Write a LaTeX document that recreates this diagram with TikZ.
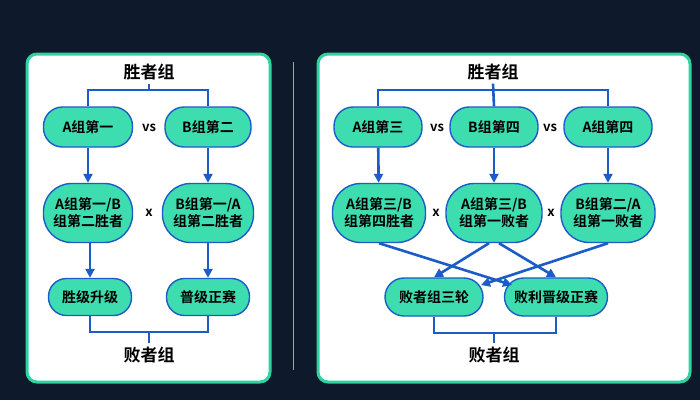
\documentclass[tikz,border=0pt]{standalone}
\usepackage{fontspec}
\setmainfont{Noto Sans CJK SC}[BoldFont={Noto Sans CJK SC Bold}]
\usetikzlibrary{arrows.meta}
\definecolor{bg}{HTML}{0E1A2C}
\definecolor{nodefill}{HTML}{3EDDB0}
\definecolor{lineblue}{HTML}{1B5CC6}
\definecolor{panelb}{HTML}{2ED3A0}
\begin{document}
\begin{tikzpicture}[x=1pt,y=-1pt,
  pill/.style={draw=lineblue,line width=1.4pt,fill=nodefill,rounded corners=19pt,minimum height=#1,align=center,font=\fontsize{14}{17}\selectfont\bfseries,inner sep=1pt},
  ln/.style={draw=lineblue,line width=2.6pt},
  ar/.style={ln,-{Triangle[length=9pt,width=9pt]}},
  lab/.style={font=\fontsize{17}{19}\selectfont\bfseries,text=black},
  sm/.style={font=\fontsize{13}{15}\selectfont\bfseries}]
\useasboundingbox (0,0) rectangle (700,400);
\fill[bg] (0,0) rectangle (700,400);
\draw[panelb,line width=3pt,fill=white,rounded corners=10pt] (27,54) rectangle (270,382);
\draw[panelb,line width=3pt,fill=white,rounded corners=10pt] (318,54) rectangle (690,382);
\draw[gray!70,line width=0.8pt] (293,62) -- (293,370);
% left
\node[lab] (lw) at (149,72) {胜者组};
\node[lab] (ll) at (149,355) {败者组};
\node[pill=40pt,minimum width=89pt] (a1) at (88,127) {A组第一};
\node[pill=40pt,minimum width=86pt] (b2) at (208,127) {B组第二};
\node[sm] (vs1) at (149,128) {vs};
\node[pill=59pt,minimum width=89pt,rounded corners=28pt] (c1) at (88,213) {A组第一/B\\组第二胜者};
\node[pill=59pt,minimum width=91pt,rounded corners=28pt] (c2) at (208,213) {B组第一/A\\组第二胜者};
\node[sm] (x1) at (149,213) {x};
\node[pill=37pt,minimum width=83pt,rounded corners=18pt] (d1) at (90,297) {胜级升级};
\node[pill=37pt,minimum width=83pt,rounded corners=18pt] (d2) at (208,297) {普级正赛};
\draw[ln] (a1.north) |- (149,90) -| (b2.north);
\draw[ln] (149,90) -- (lw.south);
\draw[ar] (a1) -- (c1);
\draw[ar] (b2) -- (c2);
\draw[ar] (c1.south -| d1.north) -- (d1.north);
\draw[ar] (c2) -- (d2);
\draw[ln] (d1.south) |- (149,332) -| (d2.south);
\draw[ln] (149,332) -- (ll.north);
% right
\node[lab] (rw) at (493,72) {胜者组};
\node[lab] (rl) at (494,355) {败者组};
\node[pill=40pt,minimum width=88pt] (e1) at (378,127) {A组第三};
\node[pill=40pt,minimum width=88pt] (e2) at (494,127) {B组第四};
\node[pill=40pt,minimum width=88pt] (e3) at (608,127) {A组第四};
\node[sm] at (437,128) {vs};
\node[sm] at (550,128) {vs};
\node[pill=59pt,minimum width=93pt,rounded corners=28pt] (f1) at (379,213) {A组第三/B\\组第四胜者};
\node[pill=59pt,minimum width=96pt,rounded corners=28pt] (f2) at (494,213) {A组第三/B\\组第一败者};
\node[pill=59pt,minimum width=94pt,rounded corners=28pt] (f3) at (608,213) {B组第二/A\\组第一败者};
\node[sm] at (436,213) {x};
\node[sm] at (551,213) {x};
\node[pill=38pt,minimum width=98pt] (g1) at (434,297) {败者组三轮};
\node[pill=38pt,minimum width=103pt] (g2) at (556,297) {败利晋级正赛};
\draw[ln] (e1.north) |- (494,90) -| (e3.north);
\draw[ln] (e2.north) -- (rw.south);
\draw[ar] (e1) -- (f1);
\draw[ar] (e2) -- (f2);
\draw[ar] (e3) -- (f3);
\coordinate (g2tl) at (512,285);
\coordinate (g1tr) at (481,285);
\draw[ar] (f1.south) -- (g2tl);
\draw[ar] (f2.south) ++(-5,0) -- (g1.north);
\draw[ar] (f2.south) ++(5,0) -- (g2.north);
\draw[ar] (f3.south) -- (g1tr);
\draw[ln] (g1.south) |- (494,333) -| (g2.south);
\draw[ln] (494,333) -- (rl.north);
\end{tikzpicture}
\end{document}
